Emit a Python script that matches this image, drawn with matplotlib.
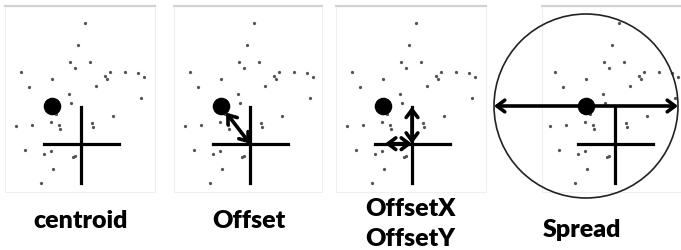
import matplotlib
matplotlib.use("Agg")
import matplotlib.pyplot as plt
from matplotlib.patches import Circle, Rectangle

# scatter of shots (pixel coords within the first panel, y down)
shot_x = [85.3, 78, 69.7, 90, 75, 20.7, 52, 105, 106.7, 110.3, 125, 138, 144,
          28.7, 95.7, 69, 141.3, 70.7, 55.7, 113, 15.7, 32.3, 51, 58.7, 60,
          91.7, 93.3, 25, 43.7, 51.3, 73.3, 75.3, 52.7, 41]
shot_y = [23, 44.7, 62, 61.7, 68.3, 72.3, 78.7, 76, 78.7, 72, 72.3, 73, 77,
          87, 86.3, 94, 97.7, 103, 113.7, 116, 125.7, 125, 122, 125.3, 129,
          123, 126.7, 149.7, 154, 151.3, 156.7, 155.7, 168.7, 182.7]
centroid = (52, 106)
target = (81, 143.7)
labels = ["centroid", "Offset", "OffsetX\nOffsetY", "Spread"]
spread_radius = 92

panel_offsets = [0, 169, 331, 534]
panel_widths = [150, 148, 150, 150]

fig = plt.figure(figsize=(6.81, 2.5), dpi=100)
ax = fig.add_axes([0, 0, 1, 1])
ax.set_xlim(0, 681)
ax.set_ylim(250, 0)
ax.axis("off")

arrow = dict(arrowstyle="<->,head_length=0.4,head_width=0.3", lw=2.6,
             color="black", mutation_scale=14, shrinkA=0, shrinkB=0)

for i, off in enumerate(panel_offsets):
    left = off + 5 if i < 3 else off + 8
    w = panel_widths[i]
    ax.add_patch(Rectangle((left, 6), w, 186, fill=False, ec="#efefef", lw=0.8))
    ax.plot([left, left + w], [6, 6], color="#d2d2d2", lw=1.6)

    xs = [x + off for x in shot_x]
    ax.scatter(xs, shot_y, s=5.5, color="#555555", lw=0, zorder=3)

    tx, ty = target[0] + off, target[1]
    ax.plot([tx, tx], [107, 182.7], color="black", lw=2.3, zorder=4)
    ax.plot([tx - 37.5, tx + 38], [ty, ty], color="black", lw=2.3, zorder=4)

    cx, cy = centroid[0] + off, centroid[1]
    ax.scatter([cx], [cy], s=160, color="black", lw=0, zorder=5)

    if i == 1:
        a = dict(arrow, shrinkA=6)
        ax.annotate("", xy=(tx, ty), xytext=(cx, cy), arrowprops=a, zorder=6)
    elif i == 2:
        ax.annotate("", xy=(tx, 106.7), xytext=(tx, ty), arrowprops=arrow, zorder=6)
        ax.annotate("", xy=(cx + 2, ty), xytext=(tx, ty), arrowprops=arrow, zorder=6)
    elif i == 3:
        ax.add_patch(Circle((cx, cy), spread_radius, fill=False, ec="#222222",
                            lw=1.2, zorder=6))
        ax.annotate("", xy=(cx - spread_radius, cy), xytext=(cx + spread_radius, cy),
                    arrowprops=arrow, zorder=6)

# label baselines (x centre, y baseline)
label_pos = [(80.5, 228), (249, 227.7), (410, 216), (582, 236.7)]
for (lx, ly), txt in zip(label_pos, labels):
    for k, line in enumerate(txt.split("\n")):
        ax.text(lx, ly + 29.7 * k, line, ha="center", va="baseline", fontsize=18,
                fontweight="heavy", family="Lato")

fig.savefig("out.png", dpi=100)
